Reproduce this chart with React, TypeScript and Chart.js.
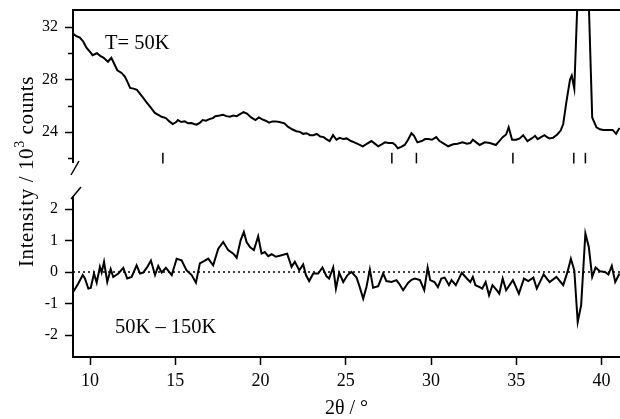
import React, { useEffect, useRef } from 'react';
import { Chart, registerables } from 'chart.js';

Chart.register(...registerables);

// ---- data ----
const topAngles = [
  9.0, 9.2, 9.4, 9.6, 9.8, 10.0, 10.15, 10.4, 10.6, 10.8, 11.05, 11.25, 11.45, 11.6, 11.85, 12.05, 12.2, 12.35, 12.55, 12.75,
  13.05, 13.35, 13.6, 13.8, 14.0, 14.2, 14.45, 14.65, 14.85, 15.05, 15.15, 15.35, 15.55, 15.75, 15.95, 16.1, 16.25, 16.45, 16.6, 16.8,
  17.0, 17.2, 17.35, 17.6, 17.8, 18.0, 18.2, 18.4, 18.6, 18.8, 19.0, 19.2, 19.45, 19.7, 19.9, 20.1, 20.3, 20.5, 20.7, 20.9,
  21.1, 21.4, 21.6, 21.85, 22.1, 22.3, 22.5, 22.7, 22.9, 23.1, 23.3, 23.5, 23.7, 23.85, 24.05, 24.25, 24.45, 24.65, 24.85, 25.05,
  25.3, 25.5, 25.75, 26.0, 26.25, 26.5, 26.7, 26.9, 27.1, 27.3, 27.5, 27.75, 27.9, 28.05, 28.25, 28.45, 28.65, 28.85, 29.0, 29.2,
  29.45, 29.65, 29.85, 30.05, 30.3, 30.5, 30.75, 31.0, 31.3, 31.55, 31.85, 32.1, 32.3, 32.45, 32.65, 32.85, 33.15, 33.45, 33.8, 34.0,
  34.2, 34.4, 34.55, 34.75, 35.0, 35.2, 35.4, 35.65, 35.9, 36.1, 36.25, 36.45, 36.65, 36.8, 36.95, 37.15, 37.4, 37.6, 37.75, 37.95,
  38.15, 38.25, 38.4, 38.6, 38.8, 39.0, 39.2, 39.45, 39.7, 39.9, 40.1, 40.4, 40.65, 40.85, 41.05,
];
const topCounts = [
  31.5, 31.3, 31.2, 30.9, 30.4, 30.1, 29.85, 30.0, 29.8, 29.65, 29.35, 29.65, 29.1, 28.7, 28.5, 28.2, 27.8, 27.35, 27.3, 27.2,
  26.7, 26.2, 25.8, 25.45, 25.3, 25.15, 25.05, 24.8, 24.6, 24.75, 24.9, 24.75, 24.8, 24.65, 24.67, 24.6, 24.55, 24.7, 24.9, 24.85,
  24.97, 25.05, 25.2, 25.25, 25.3, 25.2, 25.15, 25.25, 25.2, 25.35, 25.5, 25.4, 25.1, 24.9, 25.1, 24.95, 24.85, 24.7, 24.8, 24.8,
  24.75, 24.65, 24.4, 24.2, 24.05, 24.0, 23.85, 23.9, 23.75, 23.75, 23.85, 23.65, 23.6, 23.45, 23.3, 23.75, 23.4, 23.55, 23.45, 23.5,
  23.3, 23.2, 23.05, 22.9, 23.1, 23.3, 23.1, 22.9, 23.05, 23.2, 23.15, 23.15, 23.0, 22.75, 22.85, 23.0, 23.4, 23.9, 23.7, 23.2,
  23.3, 23.45, 23.45, 23.4, 23.6, 23.3, 23.1, 22.9, 23.05, 23.1, 23.2, 23.1, 23.15, 23.4, 23.2, 23.0, 23.2, 23.15, 23.0, 23.3,
  23.6, 23.8, 24.35, 23.4, 23.4, 23.5, 23.75, 23.3, 23.5, 23.7, 23.45, 23.6, 23.75, 23.6, 23.5, 23.55, 23.8, 24.1, 24.6, 26.4,
  28.0, 28.3, 27.3, 34.5, 48.0, 47.0, 36.0, 25.1, 24.35, 24.2, 24.15, 24.15, 24.15, 23.85, 24.3,
];

const diffAngles = [
  9.02, 9.31, 9.57, 9.7, 9.9, 10.04, 10.23, 10.39, 10.58, 10.68, 10.82, 11.01, 11.21, 11.36, 11.66, 11.95, 12.18, 12.44, 12.73, 12.93,
  13.12, 13.35, 13.57, 13.81, 14.0, 14.2, 14.45, 14.79, 15.08, 15.37, 15.66, 15.96, 16.21, 16.44, 16.68, 16.93, 17.22, 17.52, 17.81, 18.1,
  18.4, 18.6, 18.83, 19.02, 19.18, 19.38, 19.61, 19.86, 20.06, 20.25, 20.45, 20.65, 20.9, 21.23, 21.56, 21.82, 22.01, 22.27, 22.5, 22.66,
  22.85, 23.09, 23.38, 23.63, 23.87, 24.02, 24.26, 24.42, 24.61, 24.85, 25.1, 25.33, 25.63, 25.78, 26.02, 26.21, 26.41, 26.6, 26.9, 27.19,
  27.38, 27.68, 27.97, 28.16, 28.36, 28.65, 28.85, 29.05, 29.35, 29.6, 29.8, 29.95, 30.2, 30.4, 30.6, 30.8, 31.05, 31.2, 31.45, 31.8,
  32.1, 32.3, 32.45, 32.6, 32.85, 33.0, 33.2, 33.4, 33.6, 33.85, 34.0, 34.2, 34.4, 34.8, 35.15, 35.45, 35.7, 36.0, 36.2, 36.6,
  36.95, 37.35, 37.75, 38.0, 38.2, 38.4, 38.6, 38.8, 39.05, 39.25, 39.45, 39.65, 39.9, 40.2, 40.4, 40.6, 40.8, 41.05,
];
const diffValues = [
  -0.63, -0.37, -0.1, -0.21, -0.53, -0.51, -0.05, -0.34, 0.16, -0.02, 0.32, -0.32, 0.09, -0.16, -0.05, 0.13, -0.21, -0.16, 0.21, -0.05,
  -0.02, 0.15, 0.36, -0.1, 0.19, -0.02, 0.13, -0.1, 0.42, 0.37, 0.05, -0.1, -0.34, 0.27, 0.34, 0.42, 0.21, 0.74, 0.95, 0.69,
  0.58, 0.45, 1.0, 1.27, 0.95, 0.79, 0.69, 1.13, 0.58, 0.63, 0.5, 0.56, 0.48, 0.53, 0.58, 0.16, 0.32, 0.05, 0.24, -0.1,
  -0.29, -0.05, -0.05, 0.14, -0.14, -0.21, 0.14, -0.53, -0.03, -0.32, -0.1, 0.0, -0.18, -0.42, -0.85, -0.48, 0.08, -0.5, -0.45, -0.05,
  -0.29, -0.32, -0.26, -0.4, -0.58, -0.35, -0.25, -0.21, -0.26, -0.58, 0.14, -0.26, -0.32, -0.48, -0.21, -0.18, -0.42, -0.26, -0.42, -0.03,
  -0.21, -0.32, -0.16, -0.42, -0.48, -0.53, -0.32, -0.74, -0.42, -0.58, -0.69, -0.21, -0.58, -0.26, -0.69, -0.21, -0.29, -0.18, -0.53, -0.08,
  -0.32, -0.16, -0.42, 0.0, 0.42, 0.05, -1.59, -1.06, 1.22, 0.79, -0.16, 0.14, 0.02, 0.0, -0.08, 0.19, -0.32, -0.05,
];

const reflectionAngles = [14.27, 27.7, 29.14, 34.8, 38.37, 39.05];
const reflectionLevel = 22.0;

const xRange = [9, 41.08];
const topRange = [20.48, 33.3];
const bottomRange = [-2.7, 2.98];
const zeroLevel = 0;

const xTickValues = [10, 15, 20, 25, 30, 35, 40];
const topTickValues = [22, 24, 26, 28, 30, 32];
const topLabelValues = [24, 28, 32];
const bottomTickValues = [-2, -1, 0, 1, 2];

const FONT = 'Liberation Serif';

const noPadding = (s: any) => {
  s.paddingTop = 0;
  s.paddingBottom = 0;
  s.paddingLeft = 0;
  s.paddingRight = 0;
};

const decorPlugin = {
  id: 'decor',
  afterDraw(chart: any) {
    const { ctx, chartArea: a, scales } = chart;
    const yT = scales.yTop;
    const yB = scales.yBottom;
    const x = scales.x;
    const gap = yT.bottom;
    ctx.save();
    ctx.strokeStyle = '#000';
    ctx.lineCap = 'butt';
    ctx.lineWidth = 2;
    ctx.beginPath();
    // top frame line
    ctx.moveTo(a.left - 1, a.top);
    ctx.lineTo(a.right, a.top);
    // left axis, upper panel
    ctx.moveTo(a.left, a.top);
    ctx.lineTo(a.left, gap - 15);
    // left axis, lower panel
    ctx.moveTo(a.left, gap + 18);
    ctx.lineTo(a.left, a.bottom);
    ctx.stroke();

    // axis break marks
    ctx.lineWidth = 1.5;
    ctx.beginPath();
    ctx.moveTo(a.left - 2, gap - 3);
    ctx.lineTo(a.left + 6, gap - 17);
    ctx.moveTo(a.left - 2, gap + 21);
    ctx.lineTo(a.left + 8, gap + 9);
    ctx.stroke();

    // y tick marks
    ctx.lineWidth = 1.5;
    ctx.beginPath();
    for (const t of yT.ticks) {
      const py = Math.round(yT.getPixelForValue(t.value)) + 0.5;
      const len = topLabelValues.includes(t.value) ? 8 : 5;
      ctx.moveTo(a.left - len, py);
      ctx.lineTo(a.left, py);
    }
    for (const t of yB.ticks) {
      const py = Math.round(yB.getPixelForValue(t.value)) + 0.5;
      ctx.moveTo(a.left - 8, py);
      ctx.lineTo(a.left, py);
    }
    ctx.stroke();

    // annotations
    ctx.fillStyle = '#000';
    ctx.font = `20.5px "${FONT}"`;
    ctx.textAlign = 'left';
    ctx.textBaseline = 'middle';
    ctx.fillText('T= 50K', x.getPixelForValue(10.88), yT.getPixelForValue(30.7));
    ctx.fillText('50K \u2013 150K', x.getPixelForValue(11.46), yB.getPixelForValue(-1.76));

    // y-axis title with superscript
    const mainFont = `21px "${FONT}"`;
    const supFont = `14px "${FONT}"`;
    const p1 = 'Intensity / 10';
    const p2 = '3';
    const p3 = ' counts';
    try {
      (ctx as any).letterSpacing = '0.6px';
    } catch (e) {}
    ctx.font = mainFont;
    const w1 = ctx.measureText(p1).width;
    const w3 = ctx.measureText(p3).width;
    ctx.font = supFont;
    const w2 = ctx.measureText(p2).width;
    const total = w1 + w2 + w3;
    ctx.translate(27, (a.top + a.bottom) / 2 - 12);
    ctx.rotate(-Math.PI / 2);
    let cx = -total / 2;
    ctx.font = mainFont;
    ctx.fillText(p1, cx, 0);
    cx += w1;
    ctx.font = supFont;
    ctx.fillText(p2, cx, -7);
    cx += w2;
    ctx.font = mainFont;
    ctx.fillText(p3, cx, 0);
    ctx.restore();
  },
};

export default function App() {
  const ref = useRef<HTMLCanvasElement | null>(null);

  useEffect(() => {
    if (!ref.current) return;
    const topData = topAngles.map((v, i) => ({ x: v, y: topCounts[i] }));
    const diffData = diffAngles.map((v, i) => ({ x: v, y: diffValues[i] }));
    const zeroData = xRange.map((v) => ({ x: v, y: zeroLevel }));
    const reflData = reflectionAngles.map((v) => ({ x: v, y: reflectionLevel }));

    const chart = new Chart(ref.current, {
      type: 'line',
      data: {
        datasets: [
          {
            data: topData,
            yAxisID: 'yTop',
            borderColor: '#000',
            borderWidth: 2,
            pointRadius: 0,
            tension: 0,
            fill: false,
          },
          {
            data: diffData,
            yAxisID: 'yBottom',
            borderColor: '#000',
            borderWidth: 2,
            pointRadius: 0,
            tension: 0,
            fill: false,
          },
          {
            data: zeroData,
            yAxisID: 'yBottom',
            borderColor: '#000',
            borderWidth: 1.5,
            borderDash: [2, 3],
            pointRadius: 0,
            fill: false,
          },
          {
            type: 'scatter',
            data: reflData,
            yAxisID: 'yTop',
            showLine: false,
            pointStyle: 'line',
            rotation: 90,
            pointRadius: 5.3,
            borderColor: '#000',
            borderWidth: 1.5,
          } as any,
        ],
      },
      options: {
        animation: false,
        responsive: false,
        maintainAspectRatio: false,
        layout: { autoPadding: false, padding: { top: 10, right: 0, left: 0, bottom: 0 } },
        plugins: {
          legend: { display: false },
          tooltip: { enabled: false },
        },
        scales: {
          x: {
            type: 'linear',
            position: 'bottom',
            min: xRange[0],
            max: xRange[1],
            afterBuildTicks: (s: any) => {
              s.ticks = xTickValues.map((v) => ({ value: v }));
            },
            afterFit: (s: any) => {
              s.height = 62;
              noPadding(s);
            },
            grid: {
              drawOnChartArea: false,
              drawTicks: true,
              tickLength: 8,
              tickWidth: 1.5,
              tickColor: '#000',
            },
            border: { display: true, color: '#000', width: 2 },
            ticks: {
              color: '#000',
              font: { family: FONT, size: 18 },
              padding: 5,
              maxRotation: 0,
              autoSkip: false,
            },
            title: {
              display: true,
              text: '2\u03b8 / \u00b0',
              color: '#000',
              font: { family: FONT, size: 20, lineHeight: 1 },
              padding: { top: 0, bottom: 0 },
            },
          },
          yBottom: {
            type: 'linear',
            position: 'left',
            stack: 'panels',
            stackWeight: 179,
            min: bottomRange[0],
            max: bottomRange[1],
            afterBuildTicks: (s: any) => {
              s.ticks = bottomTickValues.map((v) => ({ value: v }));
            },
            afterFit: (s: any) => {
              s.width = 73;
              noPadding(s);
            },
            grid: { display: false, drawTicks: false },
            border: { display: false },
            ticks: {
              color: '#000',
              font: { family: FONT, size: 16 },
              padding: 15,
              autoSkip: false,
              callback: (v: any) => String(v),
            },
          },
          yTop: {
            type: 'linear',
            position: 'left',
            stack: 'panels',
            stackWeight: 168,
            min: topRange[0],
            max: topRange[1],
            afterBuildTicks: (s: any) => {
              s.ticks = topTickValues.map((v) => ({ value: v }));
            },
            afterFit: (s: any) => {
              s.width = 73;
              noPadding(s);
            },
            grid: { display: false, drawTicks: false },
            border: { display: false },
            ticks: {
              color: '#000',
              font: { family: FONT, size: 16 },
              padding: 15,
              autoSkip: false,
              callback: (v: any) => (topLabelValues.includes(v) ? String(v) : ''),
            },
          },
        },
      } as any,
      plugins: [decorPlugin],
    });
    return () => chart.destroy();
  }, []);

  return (
    <div style={{ position: 'absolute', left: 0, top: 0, width: 620, height: 419, background: '#fff' }}>
      <canvas ref={ref} width={620} height={419} style={{ display: 'block', width: 620, height: 419 }} />
    </div>
  );
}
